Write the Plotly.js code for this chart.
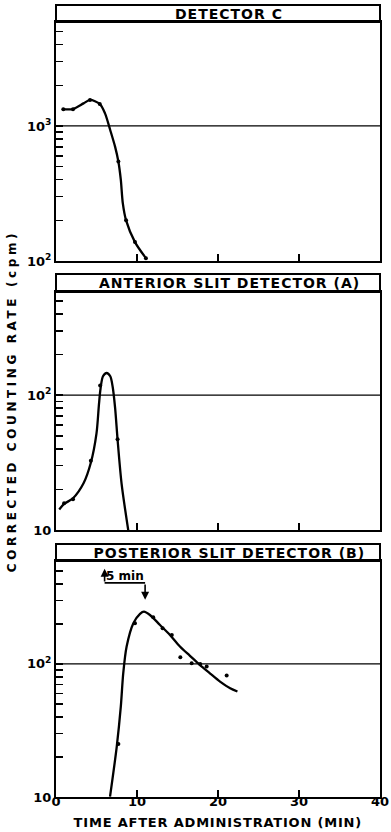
<!DOCTYPE html>
<html>
<head>
<meta charset="utf-8">
<script src="https://cdn.plot.ly/plotly-3.0.1.min.js"></script>
<style>html,body{margin:0;padding:0;background:#fff;}</style>
</head>
<body>
<div id="chart" style="width:391px;height:832px;"></div>
<script>
// ---- Data (time in min, counting rate in cpm) ----
const panelTitles = ['DETECTOR C', 'ANTERIOR SLIT DETECTOR (A)', 'POSTERIOR SLIT DETECTOR (B)'];

// Detector C
const cCurveT = [0.9, 2.1, 3.4, 4.2, 5.4, 6.05, 6.7, 7.3, 7.7, 8.0, 8.25, 8.65, 9.75, 11.1];
const cCurveV = [1330, 1335, 1470, 1560, 1455, 1240, 930, 700, 545, 400, 267, 200, 138, 105];
const cDotT = [0.9, 2.1, 4.2, 5.4, 7.7, 8.65, 9.75, 11.1];
const cDotV = [1330, 1330, 1560, 1455, 545, 200, 138, 105];

// Anterior slit detector (A)
const aCurveT = [0.4, 1.0, 2.1, 3.4, 4.3, 5.0, 5.3, 5.5, 5.8, 6.25, 6.7, 7.0, 7.3, 7.6, 8.1, 8.95];
const aCurveV = [14.2, 15.6, 17.2, 22.2, 31.5, 52, 85, 112, 138, 146, 138, 115, 80, 47, 22, 9.7];
const aDotT = [1.0, 2.1, 4.3, 5.45, 7.6];
const aDotV = [15.8, 16.9, 32.6, 118, 47];

// Posterior slit detector (B)
const bCurveT = [6.67, 7.5, 8.0, 8.3, 8.72, 9.55, 10.37, 10.86, 11.6, 12.84, 14.07, 15.3, 16.54, 17.78, 19.0, 20.25, 21.5, 22.4];
const bCurveV = [10.05, 23.9, 47.7, 85, 135, 202, 238, 247, 233, 196, 165, 135, 115, 98, 85, 73.6, 65.6, 62];
const bDotT = [7.7, 9.75, 12.0, 13.16, 14.3, 15.35, 16.75, 17.8, 18.6, 21.07];
const bDotV = [25, 202, 224, 185, 165, 112, 101, 100, 95.5, 81.7];

// "5 min" marker (from t = 6 to t = 11)
const markT = [6, 11];
const markLevel = 406;     // horizontal bracket level (cpm)
const markUpTip = 518;     // upward arrow tip
const markDownTip = 303;   // downward arrow tip

// Axis ticks
const xTicks = [0, 10, 20, 30, 40];
const xInnerTicks = [10, 20, 30];
const cTickVals = [100, 200, 300, 400, 500, 600, 700, 800, 900, 1000, 2000, 3000, 4000, 5000];
const abTickVals = [10, 20, 30, 40, 50, 60, 70, 80, 90, 100, 200, 300, 400, 500];
const gridC = 1000, gridAB = 100;

// ---- Layout helpers ----
const W = 391, H = 832;
const px = v => v / W;
const py = v => 1 - v / H;
const FONT = 'DejaVu Sans, Verdana, sans-serif';
const xDom = [px(56), px(380)];
// [bottom, headerLine, boxTop] in pixels
const panels = [[261, 22, 5], [530, 292, 274], [797, 561, 544]];
const yRanges = [[2, 3.77], [1, 2.765], [1, 2.773]];

function label(v) {
  const e = Math.round(Math.log10(v));
  if (Math.abs(Math.log10(v) - e) > 1e-9) return '';
  return e === 1 ? '10' : '10<sup>' + e + '</sup>';
}

const lineStyle = {color: '#000', width: 2.3, shape: 'spline', smoothing: 0.8};
const dotStyle = {color: '#000', size: 4};
function curve(t, v, n) { return {x: t, y: v, xaxis: 'x' + n, yaxis: 'y' + n, mode: 'lines', line: lineStyle, hoverinfo: 'skip'}; }
function dots(t, v, n) { return {x: t, y: v, xaxis: 'x' + n, yaxis: 'y' + n, mode: 'markers', marker: dotStyle, hoverinfo: 'skip'}; }
function hline(level, n) { return {x: [0, 40], y: [level, level], xaxis: 'x' + n, yaxis: 'y' + n, mode: 'lines', line: {color: '#000', width: 1.3}, hoverinfo: 'skip'}; }

const data = [
  hline(gridC, ''), hline(gridAB, 2), hline(gridAB, 3),
  curve(cCurveT, cCurveV, ''), dots(cDotT, cDotV, ''),
  curve(aCurveT, aCurveV, 2), dots(aDotT, aDotV, 2),
  curve(bCurveT, bCurveV, 3), dots(bDotT, bDotV, 3),
  {x: markT, y: [markLevel, markLevel], xaxis: 'x3', yaxis: 'y3', mode: 'lines', line: {color: '#000', width: 1.6}, hoverinfo: 'skip'}
];

const layout = {
  width: W, height: H,
  margin: {l: 0, r: 0, t: 0, b: 0},
  paper_bgcolor: '#fff', plot_bgcolor: '#fff',
  showlegend: false,
  font: {family: FONT, color: '#000', size: 12, weight: 'bold'},
  shapes: [], annotations: []
};

panels.forEach((p, i) => {
  const n = i === 0 ? '' : String(i + 1);
  const tv = i === 0 ? cTickVals : abTickVals;
  layout['xaxis' + n] = {
    domain: xDom, range: [0, 40], anchor: 'y' + n,
    showline: true, mirror: true, linecolor: '#000', linewidth: 2,
    showgrid: false, zeroline: false,
    ticks: 'inside', ticklen: 7, tickwidth: 1.5, tickcolor: '#000',
    tickvals: i === 2 ? xTicks : xInnerTicks,
    showticklabels: i === 2,
    ticklabelstandoff: -9,
    tickfont: {family: FONT, size: 13, weight: 'bold', color: '#000'}
  };
  layout['yaxis' + n] = {
    domain: [py(p[0]), py(p[1])], type: 'log', range: yRanges[i], anchor: 'x' + n,
    showline: true, mirror: true, linecolor: '#000', linewidth: 2,
    showgrid: false, zeroline: false,
    ticks: 'inside', ticklen: 7, tickwidth: 1.5, tickcolor: '#000',
    tickvals: tv, ticktext: tv.map(label),
    tickfont: {family: FONT, size: 13, weight: 'bold', color: '#000'}
  };
  layout.shapes.push({type: 'rect', xref: 'paper', yref: 'paper', x0: xDom[0], x1: xDom[1], y0: py(p[1]), y1: py(p[2]), line: {color: '#000', width: 2}, fillcolor: 'rgba(0,0,0,0)'});
  layout.annotations.push({xref: 'paper', yref: 'paper', x: px(229), y: py((p[1] + p[2]) / 2), xanchor: 'center', yanchor: 'middle', text: panelTitles[i], showarrow: false, font: {family: FONT, size: 14, weight: 'bold', color: '#000'}});
});

// axis titles
layout.annotations.push({xref: 'paper', yref: 'paper', x: px(218), y: py(822), xanchor: 'center', yanchor: 'middle', text: 'TIME AFTER ADMINISTRATION (MIN)', showarrow: false, font: {family: FONT, size: 13, weight: 'bold', color: '#000'}});
layout.annotations.push({xref: 'paper', yref: 'paper', x: px(12), y: py(401), xanchor: 'center', yanchor: 'middle', textangle: -90, text: 'CORRECTED COUNTING RATE (cpm)', showarrow: false, font: {family: FONT, size: 12, weight: 'bold', color: '#000'}});

// 5 min marker
layout.annotations.push({xref: 'x3', yref: 'y3', axref: 'x3', ayref: 'y3', x: markT[0], y: Math.log10(markUpTip), ax: markT[0], ay: Math.log10(markLevel), text: '', showarrow: true, arrowhead: 2, arrowsize: 1, arrowwidth: 1.6, arrowcolor: '#000'});
layout.annotations.push({xref: 'x3', yref: 'y3', axref: 'x3', ayref: 'y3', x: markT[1], y: Math.log10(markDownTip), ax: markT[1], ay: Math.log10(markLevel), text: '', showarrow: true, arrowhead: 2, arrowsize: 1, arrowwidth: 1.6, arrowcolor: '#000'});
layout.annotations.push({xref: 'x3', yref: 'y3', x: (markT[0] + markT[1]) / 2, y: Math.log10(Math.sqrt(markLevel * markUpTip)), xanchor: 'center', yanchor: 'middle', text: '5 min', showarrow: false, font: {family: FONT, size: 12, weight: 'bold', color: '#000'}});

const spacing = {'CORRECTED COUNTING RATE (cpm)': '3.6px', 'TIME AFTER ADMINISTRATION (MIN)': '0.8px'};
panelTitles.forEach(t => spacing[t] = '1px');

Plotly.newPlot('chart', data, layout, {staticPlot: true}).then(gd => {
  gd.querySelectorAll('text.annotation-text').forEach(el => {
    const s = spacing[el.textContent];
    if (s) el.style.letterSpacing = s;
  });
});
</script>
</body>
</html>
